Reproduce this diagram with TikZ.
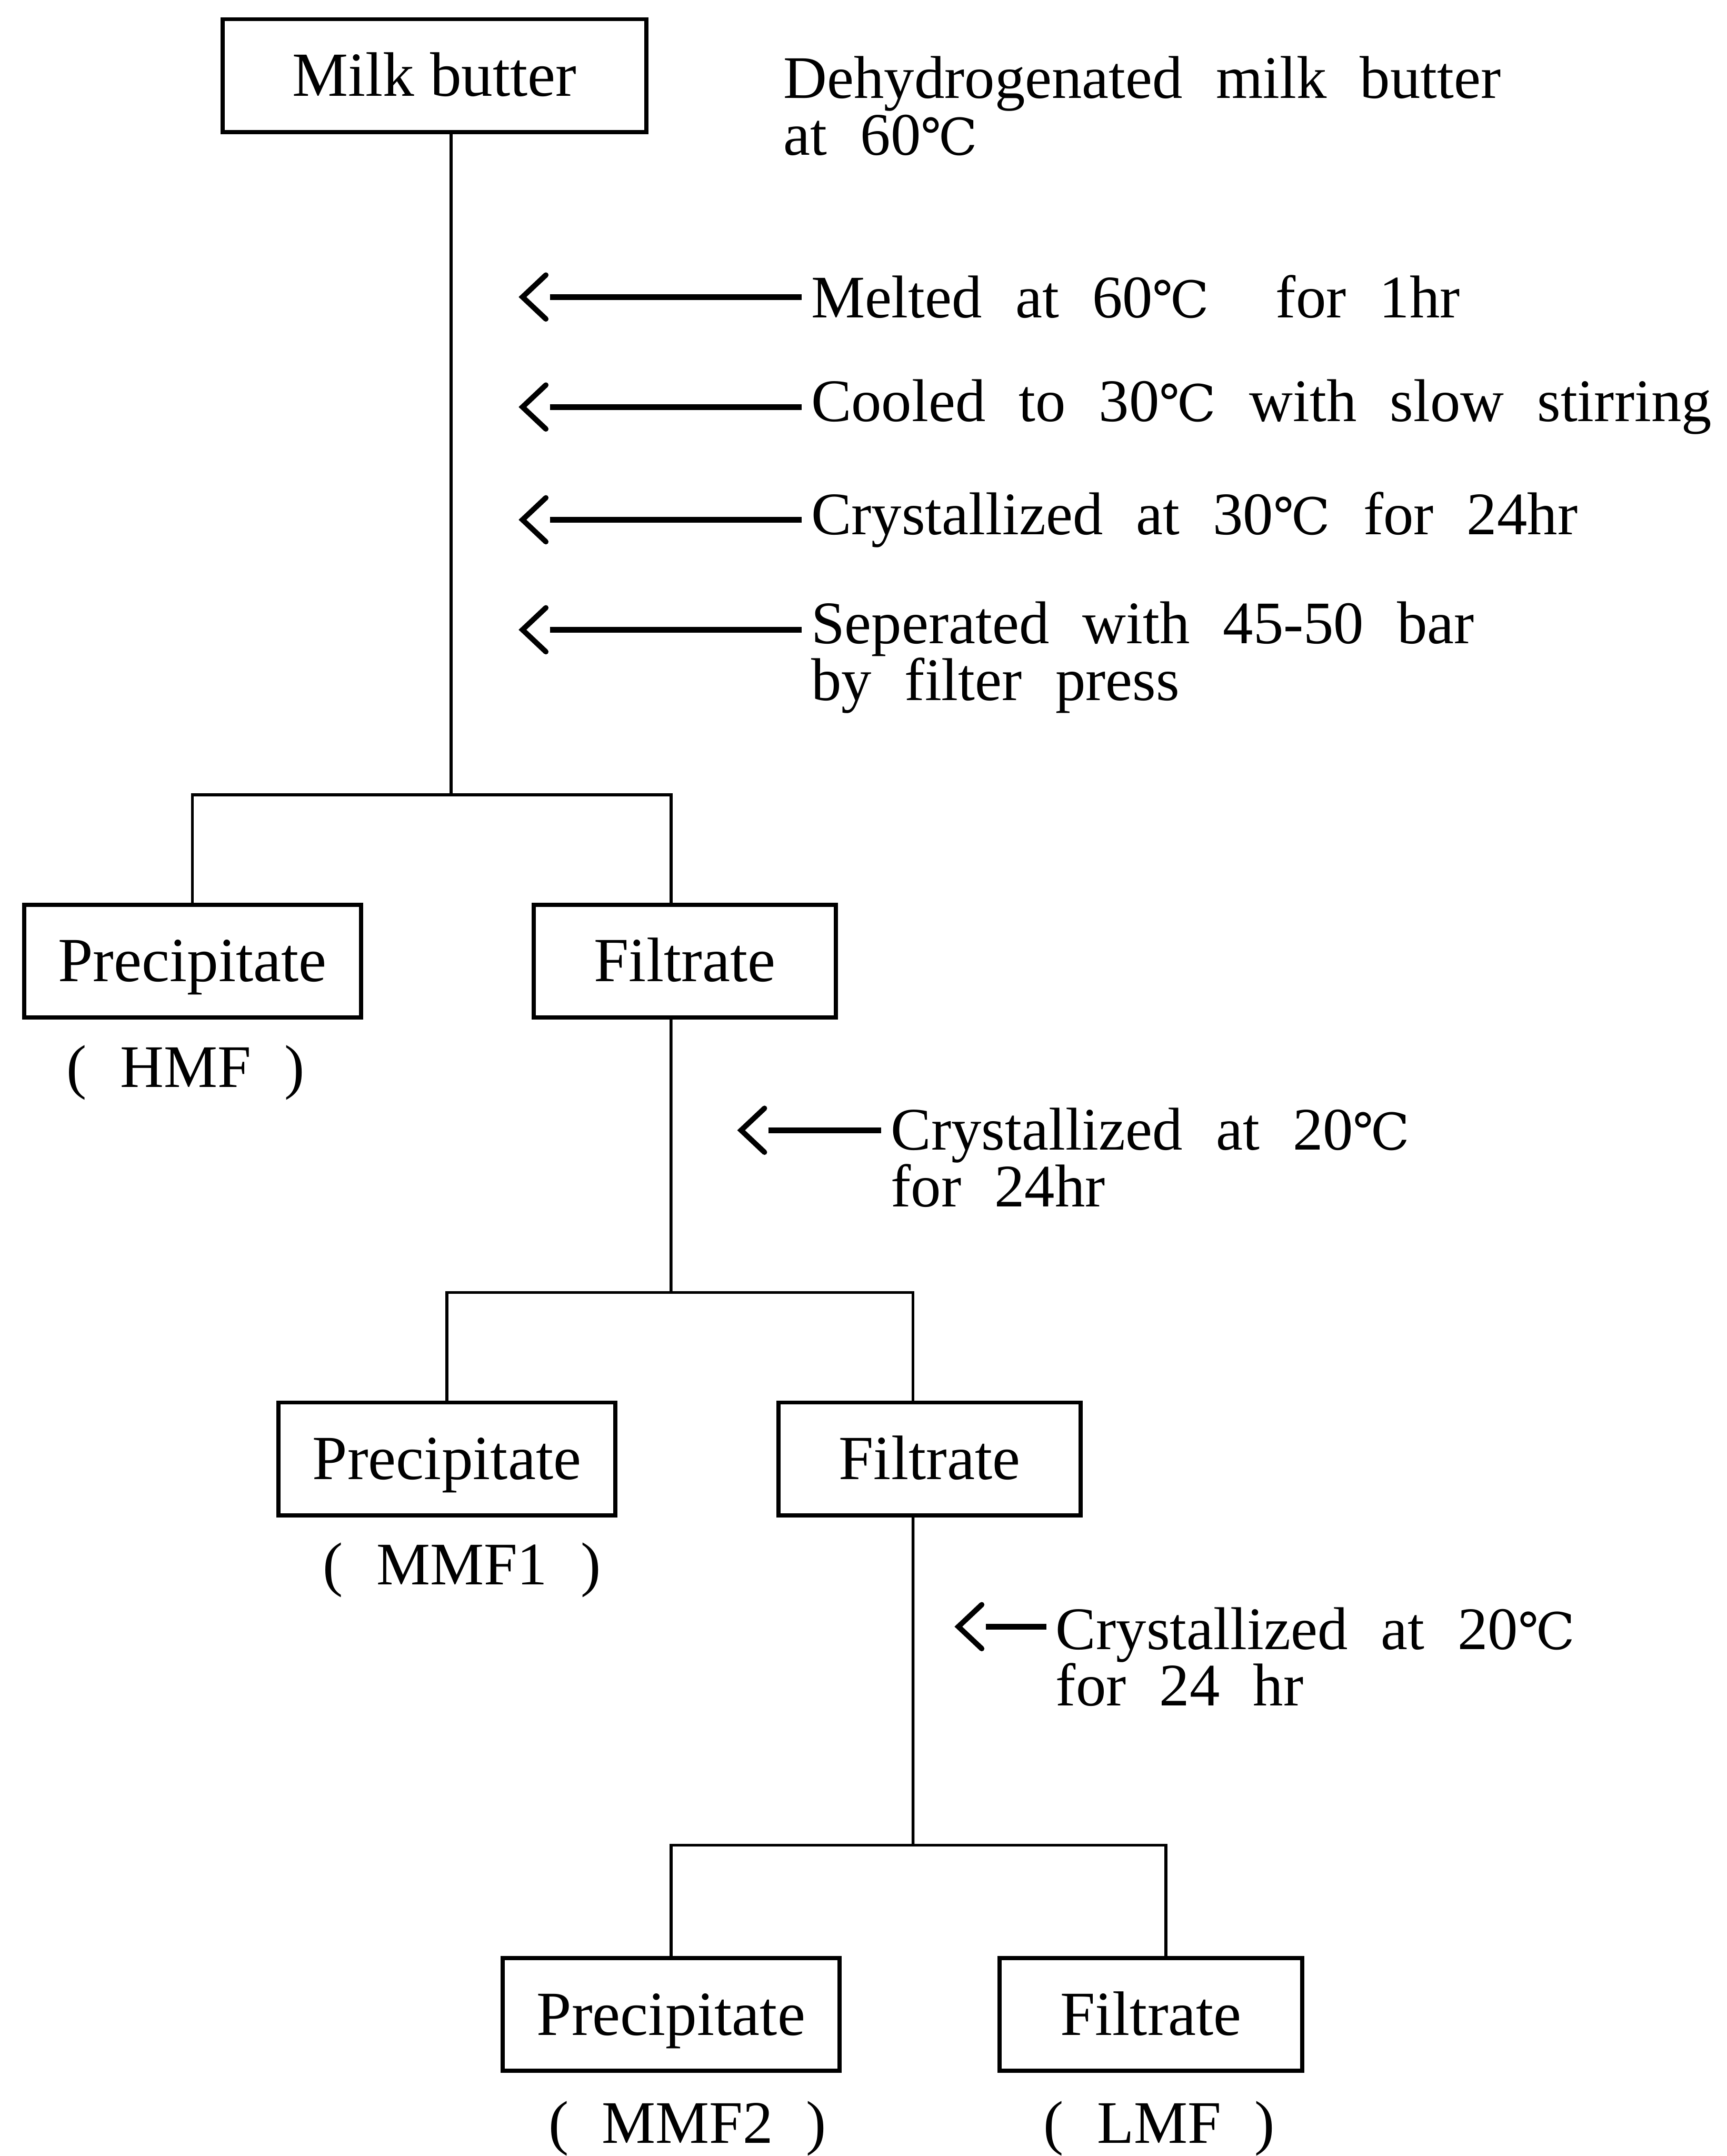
\documentclass[tikz,border=0pt]{standalone}
\usepackage{fontspec}
\setmainfont{Liberation Serif}
\newfontfamily\symfont{DejaVu Serif}
\usetikzlibrary{positioning, arrows.meta}
\newcommand{\degC}{{\symfont\fontsize{21}{21}\selectfont ℃}}
\tikzset{barb/.pic={\draw[line width=2.2pt, line cap=round] (0.34cm,0.32cm) -- (0,0) -- (0.34cm,-0.32cm);}}

\begin{document}
\begin{tikzpicture}[x=0.02cm, y=-0.02cm, line width=1.2pt,
  font={\fontsize{25}{23.5}\selectfont\spaceskip=0.55em\relax},
  box/.style={draw, line width=1.7pt, minimum height=1.64cm, inner sep=0pt,
    text height=17pt, text depth=0pt, font={\fontsize{26}{26}\selectfont}},
  prec/.style={box, minimum width=4.9cm},
  filt/.style={box, minimum width=4.4cm},
  note/.style={anchor=west, align=left},
  pointer/.style={line width=2.4pt, shorten <=0.4cm}]
  \useasboundingbox (0,0) rectangle (1256,1568);

  % boxes
  \node[box, minimum width=6.16cm] (milk) at (316,55) {Milk butter};
  \node[prec] (p1) at (140,699) {Precipitate};
  \node[filt] (f1) at (498,699) {Filtrate};
  \node[prec] (p2) at (325,1061) {Precipitate};
  \node[filt] (f2) at (676,1061) {Filtrate};
  \node[prec] (p3) at (488,1465) {Precipitate};
  \node[filt] (f3) at (837,1465) {Filtrate};

  % fraction names
  \node (hmf) at (135,780) {( HMF )};
  \node (mmf1) at (336,1142) {( MMF1 )};
  \node (mmf2) at (500,1548) {( MMF2 )};
  \node (lmf) at (843,1548) {( LMF )};

  % process notes
  \node[note] (d0) at (563,77) {Dehydrogenated milk butter\\at 60\degC};
  \node[note] (s1) at (583,216) {Melted at 60\degC\ \ for 1hr};
  \node[note] (s2) at (583,296) {Cooled to 30\degC\ with slow stirring};
  \node[note] (s3) at (583,378) {Crystallized at 30\degC\ for 24hr};
  \node[note] (s4) at (583,478) {Seperated with 45-50 bar\\by filter press};
  \node[note] (c1) at (641,842) {Crystallized at 20\degC\\for 24hr};
  \node[note] (c2) at (761,1205) {Crystallized at 20\degC\\for 24 hr};

  % tree
  \coordinate (j0) at (328,578);
  \coordinate (j1) at (488,940);
  \coordinate (j2) at (664,1342);
  \draw (milk.south -| j0) -- (j0);
  \draw (p1.north) |- (j0) -| ([xshift=-0.2cm]f1.north);
  \draw ([xshift=-0.2cm]f1.south) -- (j1);
  \draw (p2.north) |- (j1) -| ([xshift=-0.24cm]f2.north);
  \draw ([xshift=-0.24cm]f2.south) -- (j2);
  \draw (p3.north) |- (j2) -| ([xshift=0.22cm]f3.north);

  % arrows
  \coordinate (t1) at (380,216);
  \coordinate (t2) at (380,296);
  \coordinate (t3) at (380,378);
  \coordinate (t4) at (380,458);
  \coordinate (t5) at (539,822);
  \coordinate (t6) at (697,1183);
  \foreach \t in {t1,t2,t3,t4,t5,t6}
    \pic at (\t) {barb};
  \draw[pointer] (t1) -- (s1.west);
  \draw[pointer] (t2) -- (s2.west);
  \draw[pointer] (t3) -- (s3.west);
  \draw[pointer] (t4) -- (t4 -| s4.west);
  \draw[pointer] (t5) -- (t5 -| c1.west);
  \draw[pointer] (t6) -- (t6 -| c2.west);
\end{tikzpicture}
\end{document}
